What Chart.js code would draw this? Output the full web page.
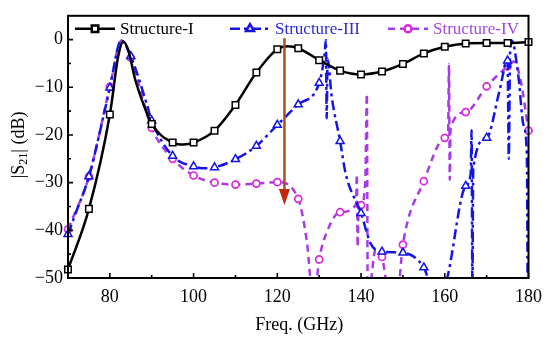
<!DOCTYPE html>
<html>
<head>
<meta charset="utf-8">
<script src="https://cdn.jsdelivr.net/npm/chart.js@4.4.1/dist/chart.umd.min.js"></script>
<style>
  html, body { margin: 0; padding: 0; background: #fff; }
  #wrap { width: 550px; height: 341px; }
</style>
</head>
<body>
<div id="wrap"><canvas id="myChart" width="550" height="341"></canvas></div>
<script>
"use strict";

// Structure-I (black, squares every 5 GHz)
const freqI = [70, 75, 80, 82, 83.2, 84.5, 86, 88, 90, 95, 97.5, 100, 105, 110, 115, 120, 122.5, 125,
  130, 135, 140, 145, 150, 155, 160, 165, 170, 175, 180];
const s21I = [-48.2, -35.5, -15.7, -3.5, -0.4, -2.5, -8.2, -13.5, -17.7, -21.6, -22.0, -21.6, -19.1, -13.7, -6.9, -2.0, -1.4, -1.8,
  -4.3, -6.5, -7.3, -6.7, -5.1, -2.9, -1.5, -0.8, -0.7, -0.7, -0.5];

// Structure-III (blue, triangles)
const freqIII = [70, 72, 75, 79, 80, 82.7, 85, 88.7, 90, 95, 100, 103, 105, 110, 115, 120, 125, 130, 131.3, 131.6, 131.8, 132.0,
  133, 135, 136.3, 140, 142.3, 145, 150, 155, 157, 159.5, 165, 166.2, 166.4, 166.6, 166.8, 170, 173, 175, 175.3, 175.6,
  176, 177.6, 178.8, 179.6, 179.8];
const s21III = [-40.8, -36, -28.7, -14, -10.1, -0.2, -3.5, -13.2, -17, -24.4, -26.6, -27, -26.8, -25.1, -22.3, -17.9, -13.6, -9.1, -3, -0.1, -16.5, -4,
  -12, -21.3, -28, -36.4, -42.8, -44.5, -44.7, -47.8, -52, -52, -30.7, -28, -19, -52, -27, -20.6, -11, -4.4, -25, -3,
  -0.2, -7.8, -17.9, -24, -52];

// Structure-IV (magenta, circles)
const freqIV = [70, 75, 80, 82.8, 85, 90, 95, 100, 105, 110, 115, 120, 125, 127, 128.7, 130, 132, 135, 138.8, 139, 139.2, 139.4,
  140, 141, 141.4, 141.6, 143.5, 145, 147, 148.5, 150, 155, 160, 160.8, 161, 161.2, 161.4, 165, 170, 175, 176.5, 178, 180];
const s21IV = [-39.8, -28.7, -9.9, -0.2, -3.8, -18.5, -25, -28.5, -30.0, -30.4, -30.2, -29.9, -33.4, -42, -55, -46.1, -40, -36.2, -34.6, -28.3, -43.5, -35,
  -34.7, -30, -11.4, -55, -44, -45.6, -55, -55, -43.0, -29.7, -20.6, -19.5, -5.1, -29.4, -18.5, -15.2, -9.8, -5.6, -4.6, -8, -19.1];

const seriesNames = ["Structure-I", "Structure-III", "Structure-IV"];
const xTicks = [80, 100, 120, 140, 160, 180];
const xMinor = [70, 90, 110, 130, 150, 170];
const yTicks = [-50, -40, -30, -20, -10, 0];
const yMinor = [-45, -35, -25, -15, -5];
// arrow: frequency, start dB, end dB
const arrow = [121.7, 0.3, -34.7];

const FONT = '"Liberation Serif", "Times New Roman", serif';

function pts(xs, ys) {
  return xs.map((x, i) => ({ x: x, y: ys[i] }));
}

function markerRadius(r) {
  return (c) => (c.raw && c.raw.x % 5 === 0 ? r : 0);
}

const decor = {
  id: "decor",
  afterDatasetsDraw(chart) {
    const ctx = chart.ctx;
    const xs = chart.scales.x;
    const ys = chart.scales.y;
    const a = chart.chartArea;

    // arrow
    const ax = xs.getPixelForValue(arrow[0]);
    const ay0 = ys.getPixelForValue(arrow[1]);
    const ay1 = ys.getPixelForValue(arrow[2]);
    ctx.save();
    ctx.strokeStyle = "#a8501e";
    ctx.lineWidth = 2.5;
    ctx.beginPath();
    ctx.moveTo(ax, ay0);
    ctx.lineTo(ax, ay1 - 14);
    ctx.stroke();
    ctx.fillStyle = "#c4280c";
    ctx.beginPath();
    ctx.moveTo(ax - 5.5, ay1 - 16);
    ctx.lineTo(ax + 5.5, ay1 - 16);
    ctx.lineTo(ax, ay1);
    ctx.closePath();
    ctx.fill();
    ctx.restore();

    // frame + inward ticks
    ctx.save();
    ctx.strokeStyle = "#000";
    ctx.lineWidth = 2;
    ctx.strokeRect(a.left, a.top, a.right - a.left, a.bottom - a.top);
    ctx.lineWidth = 1.6;
    ctx.beginPath();
    xTicks.forEach((v) => {
      const p = xs.getPixelForValue(v);
      ctx.moveTo(p, a.bottom);
      ctx.lineTo(p, a.bottom - 5);
    });
    xMinor.forEach((v) => {
      const p = xs.getPixelForValue(v);
      ctx.moveTo(p, a.bottom);
      ctx.lineTo(p, a.bottom - 3);
    });
    yTicks.forEach((v) => {
      const p = ys.getPixelForValue(v);
      ctx.moveTo(a.left, p);
      ctx.lineTo(a.left + 5, p);
    });
    yMinor.forEach((v) => {
      const p = ys.getPixelForValue(v);
      ctx.moveTo(a.left, p);
      ctx.lineTo(a.left + 3, p);
    });
    ctx.stroke();

    // legend
    const legendX = [75, 230, 388];
    const ly = a.top + 13;
    ctx.font = "17px " + FONT;
    ctx.textBaseline = "middle";
    chart.data.datasets.forEach((ds, i) => {
      const x0 = legendX[i];
      ctx.save();
      ctx.strokeStyle = ds.borderColor;
      ctx.lineWidth = ds.borderWidth;
      ctx.setLineDash(ds.borderDash || []);
      ctx.beginPath();
      ctx.moveTo(x0, ly);
      ctx.lineTo(x0 + 40, ly);
      ctx.stroke();
      ctx.setLineDash([]);
      ctx.strokeStyle = ds.pointBorderColor;
      ctx.fillStyle = "#fff";
      Chart.helpers.drawPoint(ctx, {
        pointStyle: ds.pointStyle,
        radius: ds.legendRadius,
        borderWidth: ds.pointBorderWidth,
        rotation: 0,
      }, x0 + 20, ly);
      ctx.fillStyle = ds.textColor;
      ctx.textAlign = "left";
      ctx.fillText(ds.label, x0 + 45, ly + 1);
      ctx.restore();
    });

    // axis titles
    ctx.fillStyle = "#000";
    ctx.font = "18px " + FONT;
    ctx.textAlign = "center";
    ctx.textBaseline = "middle";
    ctx.fillText("Freq. (GHz)", (a.left + a.right) / 2 + 1, 325);

    ctx.translate(19, (a.top + a.bottom) / 2 - 2);
    ctx.rotate(-Math.PI / 2);
    const p1 = "|S";
    const p2 = "21";
    const p3 = "| (dB)";
    ctx.font = "18px " + FONT;
    const w1 = ctx.measureText(p1).width;
    const w3 = ctx.measureText(p3).width;
    ctx.font = "12px " + FONT;
    const w2 = ctx.measureText(p2).width;
    let tx = -(w1 + w2 + w3) / 2;
    ctx.textAlign = "left";
    ctx.font = "18px " + FONT;
    ctx.fillText(p1, tx, 0);
    tx += w1;
    ctx.font = "12px " + FONT;
    ctx.fillText(p2, tx, 5);
    tx += w2;
    ctx.font = "18px " + FONT;
    ctx.fillText(p3, tx, 0);
    ctx.restore();
  },
};

const clipArea = { left: 6, right: 6, top: 0, bottom: 0 };

const data = {
  datasets: [
    {
      label: seriesNames[0],
      data: pts(freqI, s21I),
      borderColor: "#000000",
      borderWidth: 2.5,
      pointStyle: "rect",
      pointRadius: markerRadius(4.6),
      legendRadius: 4.6,
      pointBorderColor: "#000000",
      pointBackgroundColor: "#ffffff",
      pointBorderWidth: 1.5,
      textColor: "#000000",
      cubicInterpolationMode: "monotone",
      clip: clipArea,
    },
    {
      label: seriesNames[1],
      data: pts(freqIII, s21III),
      borderColor: "#1414e6",
      borderWidth: 2.5,
      borderDash: [10, 4, 3, 4],
      pointStyle: "triangle",
      pointRadius: markerRadius(4.6),
      legendRadius: 4.6,
      pointBorderColor: "#1414e6",
      pointBackgroundColor: "#ffffff",
      pointBorderWidth: 1.5,
      textColor: "#2a2ad8",
      cubicInterpolationMode: "monotone",
      clip: clipArea,
    },
    {
      label: seriesNames[2],
      data: pts(freqIV, s21IV),
      borderColor: "#a83ae8",
      borderWidth: 2.5,
      borderDash: [7, 5],
      pointStyle: "circle",
      pointRadius: markerRadius(3.5),
      legendRadius: 3.5,
      pointBorderColor: "#dc28dc",
      pointBackgroundColor: "#ffffff",
      pointBorderWidth: 1.7,
      textColor: "#a448e0",
      cubicInterpolationMode: "monotone",
      clip: clipArea,
    },
  ],
};

const myChart = new Chart(document.getElementById("myChart").getContext("2d"), {
  type: "line",
  data: data,
  plugins: [decor],
  options: {
    responsive: false,
    animation: false,
    layout: { padding: { top: 7, right: 20, left: 0, bottom: 0 } },
    plugins: { legend: { display: false }, tooltip: { enabled: false } },
    scales: {
      x: {
        type: "linear",
        min: 70,
        max: 180,
        grid: { display: false, drawTicks: false },
        border: { display: false },
        afterBuildTicks: (s) => { s.ticks = xTicks.map((v) => ({ value: v })); },
        afterFit: (s) => { s.height = 63; },
        ticks: {
          padding: 8,
          maxRotation: 0,
          color: "#000",
          font: { family: FONT, size: 18 },
        },
      },
      y: {
        min: -50,
        max: 5,
        grid: { display: false, drawTicks: false },
        border: { display: false },
        afterBuildTicks: (s) => { s.ticks = yTicks.map((v) => ({ value: v })); },
        afterFit: (s) => { s.width = 68; },
        ticks: {
          padding: 5,
          color: "#000",
          font: { family: FONT, size: 18 },
          callback: (v) => String(v).replace("-", "\u2212"),
        },
      },
    },
  },
});
</script>
</body>
</html>
